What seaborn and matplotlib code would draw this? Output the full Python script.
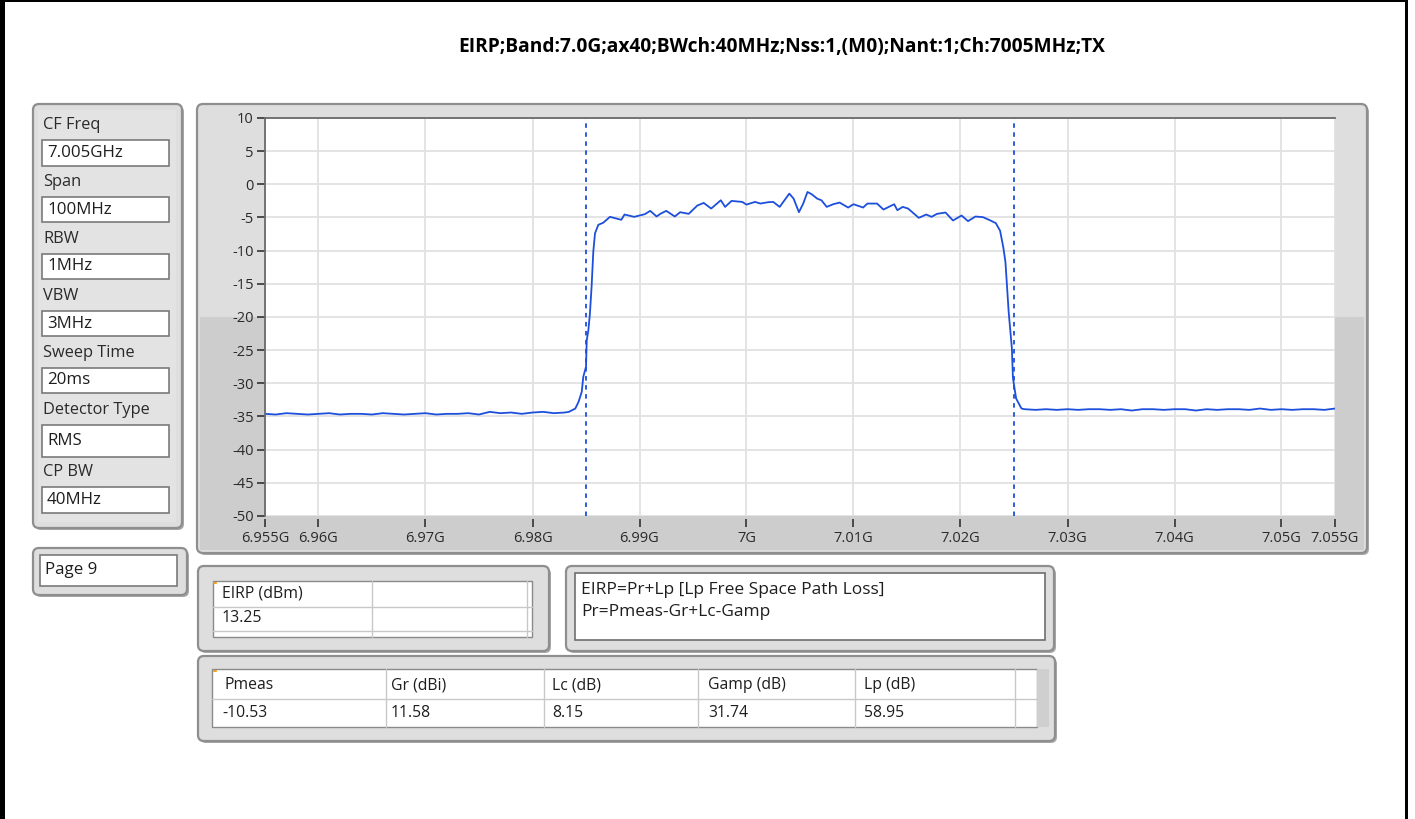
import numpy as np
import pandas as pd
import matplotlib.pyplot as plt
import seaborn as sns
from matplotlib.patches import FancyBboxPatch, Rectangle

# spectrum trace (GHz, dBm)
freq_ghz = [
    6.955, 6.956, 6.957, 6.958, 6.959, 6.960, 6.961, 6.962, 6.963, 6.964,
    6.965, 6.966, 6.967, 6.968, 6.969, 6.970, 6.971, 6.972, 6.973, 6.974,
    6.975, 6.976, 6.977, 6.978, 6.979, 6.980, 6.981, 6.982, 6.983, 6.9834,
    6.9840, 6.9843, 6.9846, 6.98475, 6.9850, 6.98507, 6.98522, 6.98537, 6.98553, 6.98568,
    6.98584, 6.98615, 6.9866, 6.98724, 6.9883, 6.9886, 6.9890, 6.9895, 6.9900, 6.9905,
    6.9910, 6.9916, 6.9920, 6.9925, 6.9933, 6.9938, 6.9946, 6.9954, 6.9960, 6.9967,
    6.9976, 6.9980, 6.9986, 6.9996, 7.0000, 7.0008, 7.0013, 7.0020, 7.0025, 7.0031,
    7.0036, 7.0040, 7.0044, 7.0049, 7.0053, 7.0057, 7.0061, 7.0066, 7.0070, 7.0075,
    7.0081, 7.0087, 7.0095, 7.0100, 7.0109, 7.0113, 7.0122, 7.0128, 7.0138, 7.0141,
    7.0146, 7.0151, 7.0161, 7.0168, 7.0173, 7.0178, 7.0186, 7.0193, 7.0201, 7.0207,
    7.0214, 7.0221, 7.0228, 7.0233, 7.0237, 7.0240, 7.0242, 7.0245, 7.0248, 7.0249,
    7.0252, 7.0257, 7.026, 7.027, 7.028, 7.029, 7.030, 7.031, 7.032, 7.033,
    7.034, 7.035, 7.036, 7.037, 7.038, 7.039, 7.040, 7.041, 7.042, 7.043,
    7.044, 7.045, 7.046, 7.047, 7.048, 7.049, 7.050, 7.051, 7.052, 7.053,
    7.054, 7.055,
]
level_dbm = [
    -34.6, -34.7, -34.5, -34.6, -34.7, -34.6, -34.5, -34.7, -34.6, -34.6,
    -34.7, -34.5, -34.6, -34.7, -34.6, -34.5, -34.7, -34.6, -34.6, -34.5,
    -34.7, -34.3, -34.5, -34.4, -34.6, -34.4, -34.3, -34.5, -34.4, -34.3,
    -33.8, -32.8, -31.3, -29.0, -27.5, -23.5, -22.0, -19.4, -15.2, -10.2,
    -7.4, -6.1, -5.8, -4.9, -5.35, -4.55, -4.7, -4.9, -4.7, -4.5,
    -4.0, -4.85, -4.4, -4.0, -4.85, -4.2, -4.45, -3.2, -2.8, -3.65,
    -2.4, -3.4, -2.5, -2.65, -3.05, -2.65, -2.9, -2.7, -2.65, -3.4,
    -2.3, -1.4, -2.15, -4.2, -2.9, -1.15, -1.5, -2.15, -2.4, -3.4,
    -3.0, -2.75, -3.5, -3.0, -3.5, -2.9, -2.9, -3.8, -3.0, -3.9,
    -3.4, -3.65, -5.05, -4.55, -4.9, -4.45, -4.25, -5.45, -4.7, -5.55,
    -4.85, -4.95, -5.45, -5.85, -7.0, -9.5, -11.7, -19.2, -24.7, -29.2,
    -32.3, -33.8, -33.9, -34.0, -33.9, -34.0, -33.9, -34.0, -33.9, -33.9,
    -34.0, -33.9, -34.1, -33.9, -33.9, -34.0, -33.9, -33.9, -34.1, -33.9,
    -34.0, -33.9, -33.9, -34.0, -33.8, -34.0, -33.9, -34.0, -33.9, -33.9,
    -34.0, -33.8,
]

marker_lines = [6.985, 7.025]
x_ticks = [6.955, 6.96, 6.97, 6.98, 6.99, 7.0, 7.01, 7.02, 7.03, 7.04, 7.05, 7.055]
x_tick_labels = ['6.955G', '6.96G', '6.97G', '6.98G', '6.99G', '7G',
                 '7.01G', '7.02G', '7.03G', '7.04G', '7.05G', '7.055G']
y_ticks = [-50, -45, -40, -35, -30, -25, -20, -15, -10, -5, 0, 5, 10]

title = 'EIRP;Band:7.0G;ax40;BWch:40MHz;Nss:1,(M0);Nant:1;Ch:7005MHz;TX'
settings_labels = ['CF Freq', 'Span', 'RBW', 'VBW', 'Sweep Time', 'Detector Type', 'CP BW']
settings_values = ['7.005GHz', '100MHz', '1MHz', '3MHz', '20ms', 'RMS', '40MHz']
page_label = 'Page 9'
eirp_header = 'EIRP (dBm)'
eirp_value = '13.25'
formula_lines = ['EIRP=Pr+Lp [Lp Free Space Path Loss]', 'Pr=Pmeas-Gr+Lc-Gamp']
param_headers = ['Pmeas', 'Gr (dBi)', 'Lc (dB)', 'Gamp (dB)', 'Lp (dB)']
param_values = ['-10.53', '11.58', '8.15', '31.74', '58.95']

sns.set_style('white')
plt.rcParams['font.family'] = ['Open Sans', 'DejaVu Sans']

W, H = 1415, 819
TRACE = '#1c4fdb'
TXT = '#1e1e1e'

fig = plt.figure(figsize=(W / 100, H / 100), dpi=100)
fig.patch.set_facecolor('white')

# full-figure layer in pixel units for the front-panel widgets
bg = fig.add_axes([0, 0, 1, 1])
bg.set_xlim(0, W)
bg.set_ylim(H, 0)
bg.axis('off')


def panel(x0, y0, x1, y1, split=None):
    bg.add_patch(FancyBboxPatch((x0 + 2, y0 + 2), x1 - x0, y1 - y0,
                                boxstyle='round,pad=0,rounding_size=6',
                                fc='#a8a8a8', ec='none'))
    bg.add_patch(FancyBboxPatch((x0, y0), x1 - x0, y1 - y0,
                                boxstyle='round,pad=0,rounding_size=6',
                                fc='#dedede', ec='#8e8e8e', lw=1.6))
    if split is not None:
        bg.add_patch(Rectangle((x0 + 3, split), x1 - x0 - 6, y1 - split - 3,
                               fc='#cdcdcd', ec='none'))


def field(x0, y0, x1, y1, text, size=12.2):
    bg.add_patch(Rectangle((x0, y0), x1 - x0, y1 - y0, fc='white', ec='#7a7a7a', lw=1.2))
    bg.text(x0 + 5, (y0 + y1) / 2, text, fontsize=size, color=TXT, va='center', ha='left')


# black frame of the screenshot
bg.add_patch(Rectangle((0, 0), 5, H, fc='black', ec='none'))
bg.add_patch(Rectangle((0, 0), 1408, 2, fc='black', ec='none'))
bg.add_patch(Rectangle((1405, 0), 3, H, fc='black', ec='none'))

bg.text(782, 47, title, fontsize=13.8, fontweight='bold', color='black', ha='center', va='center')

# settings column
panel(33, 104, 182, 528)
bg.add_patch(Rectangle((38, 110), 138, 412, fc='#e3e3e3', ec='none'))
label_y = [125, 182, 239, 296, 353, 410, 472]
box_y = [(140, 166), (197, 222), (254, 279), (311, 336), (368, 393), (425, 457), (487, 513)]
for lab, val, ly, (b0, b1) in zip(settings_labels, settings_values, label_y, box_y):
    bg.text(43, ly, lab, fontsize=11.8, color='#2a2a2a', va='center', ha='left')
    field(42, b0, 169, b1, val)

panel(33, 548, 187, 595)
field(40, 555, 177, 586, page_label)

# graph frame
panel(197, 104, 1367, 553, split=317)

# EIRP result table
panel(198, 566, 549, 651)
bg.add_patch(Rectangle((213, 581), 319, 56, fc='white', ec='#8a8a8a', lw=1.0))
bg.plot([213, 532], [607, 607], color='#c8c8c8', lw=1)
bg.plot([213, 532], [631, 631], color='#c8c8c8', lw=1)
bg.plot([372, 372], [581, 637], color='#c8c8c8', lw=1)
bg.plot([527, 527], [581, 637], color='#c8c8c8', lw=1)
bg.plot([214, 216], [583, 583], color='#f0a020', lw=1.5)
bg.text(222, 594, eirp_header, fontsize=11.4, color=TXT, va='center')
bg.text(222, 618, eirp_value, fontsize=11.4, color=TXT, va='center')

# formula note
panel(566, 566, 1054, 651)
bg.add_patch(Rectangle((575, 573), 470, 67, fc='white', ec='#6e6e6e', lw=1.2))
bg.text(581, 590, formula_lines[0], fontsize=12.5, color=TXT, va='center')
bg.text(581, 612, formula_lines[1], fontsize=12.5, color=TXT, va='center')

# measurement parameter table
panel(198, 656, 1055, 741)
bg.add_patch(Rectangle((212, 669), 825, 58, fc='white', ec='#8a8a8a', lw=1.0))
bg.add_patch(Rectangle((1037, 669), 12, 58, fc='#cfcfcf', ec='none'))
bg.plot([212, 1037], [699, 699], color='#c8c8c8', lw=1)
for cx in [386, 544, 698, 855, 1015]:
    bg.plot([cx, cx], [669, 727], color='#c8c8c8', lw=1)
bg.plot([214, 216], [671, 671], color='#f0a020', lw=1.5)
col_x = [224, 391, 552, 708, 864]
for cx, head, val in zip(col_x, param_headers, param_values):
    bg.text(cx, 685, head, fontsize=11.3, color=TXT, va='center')
    bg.text(cx - 2 if val.startswith('-') else cx, 713, val, fontsize=11.3, color=TXT, va='center')

# spectrum plot
ax = fig.add_axes([265 / W, 1 - 516 / H, 1070 / W, 398 / H])
ax.set_zorder(2)
ax.set_facecolor('white')
df = pd.DataFrame({'freq': freq_ghz, 'level': level_dbm})
sns.lineplot(data=df, x='freq', y='level', ax=ax, color=TRACE, linewidth=1.3,
             estimator=None, sort=False)
for m in marker_lines:
    ax.axvline(m, color=TRACE, lw=1.3, ls=(0, (2.5, 2.5)))

ax.set_xlim(6.955, 7.055)
ax.set_ylim(-50, 10)
ax.set_xticks(x_ticks)
ax.set_xticklabels(x_tick_labels)
ax.set_yticks(y_ticks)
ax.set_yticklabels([str(v) for v in y_ticks])
ax.grid(True, color='#e2e2e2', lw=1.3)
ax.set_axisbelow(True)
ax.set_xlabel('')
ax.set_ylabel('')

for s in ['right', 'bottom']:
    ax.spines[s].set_visible(False)
for s in ['top', 'left']:
    ax.spines[s].set_color('#6a6a6a')
    ax.spines[s].set_linewidth(1.3)
ax.spines['bottom'].set_position(('outward', 2.5))
ax.tick_params(axis='y', direction='out', length=6, width=1.2, color='#333333',
               labelsize=10.5, labelcolor='#2a2a2a', pad=2, left=True)
ax.tick_params(axis='x', direction='out', length=6, width=1.2, color='#333333',
               labelsize=10.5, labelcolor='#2a2a2a', pad=2, bottom=True)

fig.savefig('out.png', dpi=100)
